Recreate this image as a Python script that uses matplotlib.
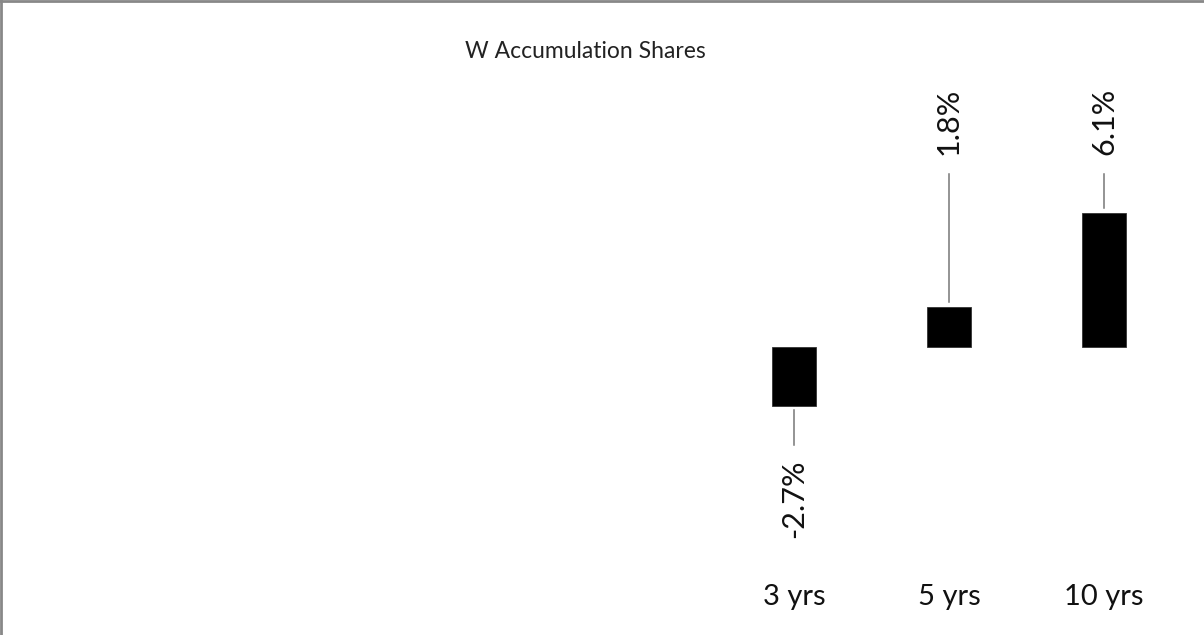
import matplotlib
matplotlib.use("Agg")
import matplotlib.pyplot as plt
import matplotlib.transforms as mtransforms
from matplotlib.lines import Line2D

plt.rcParams['font.family'] = ['Lato', 'DejaVu Sans']

# data
title = "W Accumulation Shares"
periods = ["3 yrs", "5 yrs", "10 yrs"]
returns = [-2.7, 1.8, 6.1]

W, H = 1204, 635
fig = plt.figure(figsize=(W / 100, H / 100), dpi=100)
ax = fig.add_axes([0, 0, 1, 1])

# layout in pixels: first bar at x=794, step 155 px; zero line at y=347 px, 22 px per %
px_x, step = 794, 155
zero_y, ppu = 347, 22.0
ax.set_xlim(-px_x / step, (W - px_x) / step)
ax.set_ylim(-(H - zero_y) / ppu, zero_y / ppu)
ax.axis('off')

x = list(range(len(periods)))
ax.bar(x, returns, width=44 / step, color='black', edgecolor='#333333', linewidth=0.6)

trans_top = mtransforms.blended_transform_factory(ax.transData, fig.transFigure)
for xi, v in zip(x, returns):
    if v >= 0:
        top_line = 1 - 174 / H
        lbl_y = 1 - 155 / H
        bar_top_fig = fig.transFigure.inverted().transform(ax.transData.transform((xi, v)))[1] + 5 / H
        ax.add_line(Line2D([xi, xi], [bar_top_fig, top_line], transform=trans_top,
                           color='#777777', linewidth=1.1))
        ax.text(xi, lbl_y, f"{v:.1f}%", transform=trans_top, rotation=90,
                ha='center', va='bottom', fontsize=22, color='#111111')
    else:
        ax.add_line(Line2D([xi, xi], [v - 4 / ppu, v - 39 / ppu], color='#777777', linewidth=1.1))
        ax.text(xi, v - 53 / ppu, f"{v:.1f}%", rotation=90,
                ha='center', va='top', fontsize=22, color='#111111')

# category labels
for xi, p in zip(x, periods):
    ax.text(xi, 1 - 597 / H, p, transform=trans_top, ha='center', va='center',
            fontsize=21, color='#111111')

fig.text(585 / W, 1 - 52 / H, title, ha='center', va='center', fontsize=16.5,
         color='#222222')

# top and left frame
fig.add_artist(Line2D([0, 1], [1 - 1 / H, 1 - 1 / H], transform=fig.transFigure, color='#888888', linewidth=2))
fig.add_artist(Line2D([1 / W, 1 / W], [0, 1], transform=fig.transFigure, color='#888888', linewidth=2))

fig.savefig("out.png", dpi=100)
